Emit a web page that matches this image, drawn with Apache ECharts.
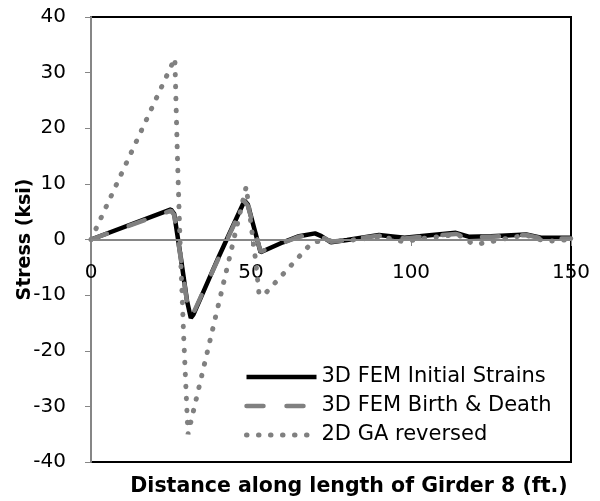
<!DOCTYPE html>
<html>
<head>
<meta charset="utf-8">
<script src="https://cdn.jsdelivr.net/npm/echarts@6/dist/echarts.min.js"></script>
<style>
  html, body { margin: 0; padding: 0; background: #fff; }
  #chart { width: 600px; height: 501px; }
</style>
</head>
<body>
<div id="chart"></div>
<script>
// distance (ft), stress (ksi) pairs
var initialStrains = [
  [0, 0], [25, 5.4], [26, 4.6], [28, -3], [30, -11], [31.2, -14.1], [32, -13.5],
  [40, -3], [48, 7.0], [49, 6.3], [53, -2.3], [60, -0.5], [65, 0.6], [70, 1.1],
  [72, 0.6], [75, -0.5], [80, -0.1], [90, 0.8], [95, 0.5], [98, 0.3], [105, 0.7],
  [114, 1.2], [118, 0.5], [125, 0.6], [136, 0.9], [141, 0.3], [150, 0.3]
]
var birthDeath = [
  [0, 0], [25, 5.2], [26, 4.4], [28, -3.2], [30, -11.2], [31.2, -13.8], [32, -13.2],
  [40, -3.2], [48, 6.8], [49, 6.1], [53, -2.2], [60, -0.6], [65, 0.5], [70, 0.9],
  [72, 0.5], [75, -0.4], [80, -0.1], [90, 0.7], [95, 0.4], [98, 0.2], [105, 0.6],
  [114, 1.0], [118, 0.4], [125, 0.5], [136, 0.8], [141, 0.2], [150, 0.2]
]
var gaReversed = [
  [0, 0], [26.2, 32.6], [27, 15], [27.8, 0], [29, -18], [30.3, -35],
  [48.5, 9.5], [51.5, -4], [52.5, -9.8], [54, -10], [69, -0.6], [72, -0.2],
  [80, -0.2], [91, 0.5], [97.6, -0.4], [104, 0.2], [113, 0.8], [116, 0.6],
  [119, -0.7], [122, -0.7], [125, -0.4], [129, 0.1], [136, 0.8], [140, 0],
  [143, -0.3], [150, 0]
]
var seriesNames = ['3D FEM Initial Strains', '3D FEM Birth & Death', '2D GA reversed']

var chart = echarts.init(document.getElementById('chart'))
var font = 'DejaVu Sans'
var gray = '#808080'
var axisGray = '#868686'

var solidStyle = { color: '#000', width: 4.5 }
var dashStyle = { color: gray, width: 4.5, type: [17, 23], cap: 'round' }
var dotStyle = { color: gray, width: 5, type: [0.5, 11.5], cap: 'round' }

var option = {
  animation: false,
  textStyle: { fontFamily: font },
  grid: {
    left: 91, right: 29, top: 17, bottom: 39,
    outerBoundsMode: 'none',
    show: true, borderColor: '#000', borderWidth: 2
  },
  legend: {
    data: [
      { name: seriesNames[0], lineStyle: solidStyle, itemStyle: { opacity: 0 } },
      { name: seriesNames[1], lineStyle: dashStyle, itemStyle: { opacity: 0 } },
      { name: seriesNames[2], lineStyle: dotStyle, itemStyle: { opacity: 0 } }
    ],
    orient: 'vertical',
    left: 239, top: 361,
    itemWidth: 70, itemHeight: 14, itemGap: 7,
    textStyle: { fontFamily: font, fontSize: 21, color: '#000', lineHeight: 22 }
  },
  title: {
    text: 'Distance along length of Girder 8 (ft.)',
    left: 344, top: 471, textAlign: 'center',
    textStyle: { fontFamily: font, fontSize: 20.5, fontWeight: 'bold', color: '#000' }
  },
  // labels sit just under the zero line, as in the Excel original
  xAxis: {
    type: 'value', min: 0, max: 150, interval: 50,
    position: 'bottom', offset: -216,
    axisLine: { show: false, onZero: false },
    axisTick: { show: true, inside: true, length: 6, lineStyle: { color: axisGray, width: 1 } },
    axisLabel: { fontFamily: font, fontSize: 20, color: '#000', margin: 17 },
    splitLine: { show: false }
  },
  yAxis: [
    {
      type: 'value', min: -40, max: 40, interval: 10,
      name: 'Stress (ksi)', nameLocation: 'middle', nameGap: 56,
      nameMoveOverlap: false,
      nameTextStyle: { fontFamily: font, fontSize: 19, fontWeight: 'bold', color: '#000' },
      axisLine: { show: true, onZero: false, lineStyle: { color: axisGray, width: 2 } },
      axisTick: { show: true, length: 6, lineStyle: { color: axisGray, width: 1 } },
      axisLabel: { show: false },
      splitLine: { show: false }
    },
    {
      type: 'value', min: -40, max: 40, interval: 10,
      position: 'left', offset: 17,
      axisLine: { show: false, onZero: false },
      axisTick: { show: false },
      axisLabel: { fontFamily: font, fontSize: 20, color: '#000', margin: 8 },
      splitLine: { show: false }
    }
  ],
  series: [
    {
      name: seriesNames[0], type: 'line', data: initialStrains,
      symbol: 'none',
      lineStyle: solidStyle,
      itemStyle: { color: '#000' },
      markLine: {
        silent: true, symbol: 'none', label: { show: false },
        lineStyle: { color: axisGray, width: 2, type: 'solid' },
        data: [{ yAxis: 0 }]
      }
    },
    {
      name: seriesNames[1], type: 'line', data: birthDeath,
      symbol: 'none',
      lineStyle: dashStyle,
      itemStyle: { color: gray }
    },
    {
      name: seriesNames[2], type: 'line', data: gaReversed,
      symbol: 'none',
      lineStyle: dotStyle,
      itemStyle: { color: gray }
    }
  ]
}
chart.setOption(option)
</script>
</body>
</html>
